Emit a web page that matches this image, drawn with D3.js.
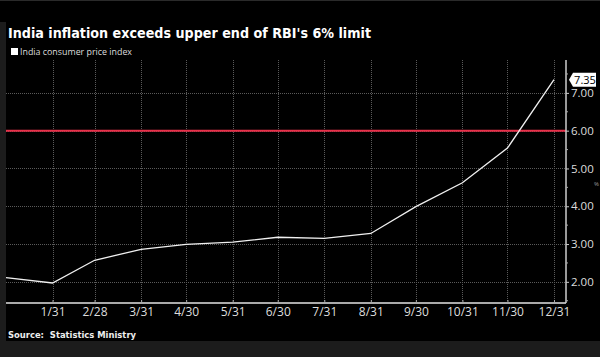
<!DOCTYPE html>
<html><head><meta charset="utf-8">
<script src="https://cdn.jsdelivr.net/npm/d3@7"></script>
<style>body{margin:0;background:#000;}svg{display:block;}</style>
</head><body>
<svg id="c" width="600" height="357"></svg>
<script>
const dates = ["2018-12-31","2019-01-31","2019-02-28","2019-03-31","2019-04-30","2019-05-31","2019-06-30","2019-07-31","2019-08-31","2019-09-30","2019-10-31","2019-11-30","2019-12-31"];
const cpi = [2.11,1.97,2.57,2.86,2.99,3.05,3.18,3.15,3.28,3.99,4.62,5.54,7.35];
const xTickLabels = ["1/31","2/28","3/31","4/30","5/31","6/30","7/31","8/31","9/30","10/31","11/30","12/31"];
const yTicks = [2,3,4,5,6,7];
const limit = 6;
const title = "India inflation exceeds upper end of RBI's 6% limit";
const legendLabel = "India consumer price index";
const source = "Source:  Statistics Ministry";

const parse = d3.timeParse("%Y-%m-%d");
const data = dates.map((d,i)=>({date:parse(d), v:cpi[i]}));
const svg = d3.select("#c");
const W=600,H=357;
const L=6,R=566,T=60,B=303;

svg.append("rect").attr("x",0).attr("y",0).attr("width",W).attr("height",H).attr("fill","#000");
svg.append("rect").attr("x",0).attr("y",341).attr("width",W).attr("height",16).attr("fill","#1c1c1c");
svg.append("rect").attr("x",0).attr("y",22).attr("width",6).attr("height",319).attr("fill","#1c1c1c");
svg.append("rect").attr("x",0).attr("y",0).attr("width",W).attr("height",1).attr("fill","#2a2a2a");

const x = d3.scaleTime().domain([parse("2018-12-31"), parse("2020-01-08")]).range([L,R]);
const y = d3.scaleLinear().domain([1.44, 7.87]).range([B,T]);

const tickDates = dates.slice(1).map(parse);
// vertical gridlines
svg.append("g").selectAll("line").data(tickDates).join("line")
  .attr("x1",d=>Math.round(x(d))+0.5).attr("x2",d=>Math.round(x(d))+0.5)
  .attr("y1",T).attr("y2",B)
  .attr("stroke","#5a5a5a").attr("stroke-width",1).attr("stroke-dasharray","1,1");
// horizontal gridlines
svg.append("g").selectAll("line").data(yTicks).join("line")
  .attr("x1",L).attr("x2",R)
  .attr("y1",d=>Math.round(y(d))+0.5).attr("y2",d=>Math.round(y(d))+0.5)
  .attr("stroke","#5a5a5a").attr("stroke-width",1).attr("stroke-dasharray","1,1");

// red limit line
svg.append("line").attr("x1",L).attr("x2",R).attr("y1",y(limit)).attr("y2",y(limit))
  .attr("stroke","#e8304a").attr("stroke-width",2);

// x axis
const xAxis = d3.axisBottom(x).tickValues(tickDates).tickFormat((d,i)=>xTickLabels[i]).tickSize(3).tickSizeOuter(0);
const gx = svg.append("g").attr("transform",`translate(0,${B})`).call(xAxis);
gx.select(".domain").attr("stroke","#aaa").attr("stroke-width",2).attr("d",`M${L},0H${R}`);
gx.selectAll(".tick line").attr("stroke","#aaa").attr("y1",-3).attr("y2",0);
gx.selectAll("text").attr("fill","#ddd").attr("font-family","'Open Sans', sans-serif").attr("font-size",12).attr("y",2).attr("dy","0.95em");

// y axis (right)
const yAxis = d3.axisRight(y).tickValues(yTicks).tickFormat(d3.format(".2f")).tickSize(3).tickPadding(2);
const gy = svg.append("g").attr("transform",`translate(${R},0)`).call(yAxis);
gy.select(".domain").attr("stroke","#ccc").attr("stroke-width",1.5).attr("d",`M0,${T}V${B}`);
gy.selectAll(".tick line").attr("stroke","#ccc");
gy.selectAll("text").attr("fill","#ddd").attr("font-family","'Open Sans', sans-serif").attr("font-size",11.5);
// minor ticks
const minor = d3.range(1.5, 7.6, 1);
svg.append("g").selectAll("line").data(minor).join("line")
  .attr("x1",R).attr("x2",R+2).attr("y1",d=>y(d)).attr("y2",d=>y(d)).attr("stroke","#aaa");

// line
svg.append("path").datum(data)
  .attr("d", d3.line().x(d=>x(d.date)).y(d=>y(d.v)))
  .attr("fill","none").attr("stroke","#f0f0f0").attr("stroke-width",1.3);

// value label
const last = data[data.length-1];
const ly = y(last.v);
const lx = R+3;
svg.append("path").attr("d",`M${lx},${ly} L${lx+4},${ly-7} H${lx+27} V${ly+7} H${lx+4} Z`).attr("fill","#fff");
svg.append("text").attr("x",lx+16).attr("y",ly+4).attr("text-anchor","middle")
  .attr("font-family","'Open Sans', sans-serif").attr("font-size",11).attr("fill","#000").text(d3.format(".2f")(last.v));

// small unit mark at right edge
svg.append("text").attr("x",594).attr("y",186).attr("fill","#999").attr("font-family","'Open Sans', sans-serif").attr("font-size",6).text("%");

// title
svg.append("text").attr("x",8).attr("y",38).attr("fill","#fff").attr("font-family","'DejaVu Sans', sans-serif")
  .attr("font-weight","bold").attr("font-size",14.5).attr("textLength",363).attr("lengthAdjust","spacingAndGlyphs").text(title);
// legend
svg.append("rect").attr("x",11).attr("y",48).attr("width",7).attr("height",7).attr("fill","#fff");
svg.append("text").attr("x",20).attr("y",55).attr("fill","#ddd").attr("font-family","'Open Sans', sans-serif")
  .attr("font-size",9.5).attr("textLength",112).attr("lengthAdjust","spacingAndGlyphs").text(legendLabel);
// source
svg.append("text").attr("x",8).attr("y",338).attr("fill","#eee").attr("font-family","'DejaVu Sans', sans-serif")
  .attr("font-weight","bold").attr("font-size",9.5).attr("textLength",128).attr("lengthAdjust","spacingAndGlyphs")
  .attr("xml:space","preserve").style("white-space","pre").text(source);
</script>
</body></html>
